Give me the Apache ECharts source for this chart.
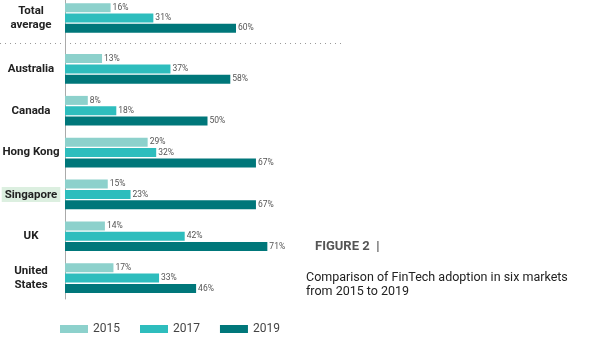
<!DOCTYPE html>
<html>
<head>
<meta charset="utf-8">
<script src="https://cdn.jsdelivr.net/npm/echarts@6/dist/echarts.min.js"></script>
<style>html,body{margin:0;padding:0;background:#fff}#c{width:600px;height:360px}</style>
</head>
<body>
<div id="c"></div>
<script>
var totalCategory = ['Total average'];
var total2015 = [16];
var total2017 = [31];
var total2019 = [60];

var markets = ['Australia', 'Canada', 'Hong Kong', 'Singapore', 'UK', 'United States'];
var v2015 = [13, 8, 29, 15, 14, 17];
var v2017 = [37, 18, 32, 23, 42, 33];
var v2019 = [58, 50, 67, 67, 71, 46];

var years = ['2015', '2017', '2019'];
var colors = ['#8dd1cc', '#2ebdbd', '#00777a'];

var fontFam = 'Roboto, "Noto Sans", sans-serif';

function yLabel(v) {
  var t = v.replace('Total average', 'Total\naverage').replace('United States', 'United\nStates');
  if (v === 'Singapore') return '{hl|' + t + '}';
  return t;
}

var axisLabelCommon = {
  fontFamily: fontFam, fontWeight: 'bold', fontSize: 11.5, color: '#222',
  align: 'center', margin: 34, lineHeight: 14, formatter: yLabel,
  rich: { hl: { backgroundColor: '#dcefe0', padding: [2, 3, 1, 3], fontFamily: fontFam, fontWeight: 'bold', fontSize: 11.5, color: '#222' } }
};

function barSeries(name, data, color, idx) {
  return {
    type: 'bar', name: name, data: data, xAxisIndex: idx, yAxisIndex: idx,
    barWidth: 9, barGap: '15%', itemStyle: { color: color },
    label: { show: true, position: 'right', distance: 2, formatter: '{c}%', fontFamily: fontFam, fontSize: 8.5, color: '#555' }
  };
}

var chart = echarts.init(document.getElementById('c'));
chart.setOption({
  animation: false,
  title: [
    { text: 'FIGURE 2  |', left: 315, top: 240, padding: 0, textStyle: { fontFamily: fontFam, fontWeight: 'bold', fontSize: 13, color: '#555' } },
    { text: 'Comparison of FinTech adoption in six markets\nfrom 2015 to 2019', left: 306, top: 271, padding: 0,
      textStyle: { fontFamily: fontFam, fontWeight: 'normal', fontSize: 12.5, color: '#222', lineHeight: 14 } }
  ],
  legend: {
    data: years, left: 55, top: 318, itemWidth: 28, itemHeight: 8, itemGap: 20,
    icon: 'rect', textStyle: { fontFamily: fontFam, fontSize: 12, color: '#444' }
  },
  grid: [
    { left: 65, top: -12, width: 285, height: 60, outerBoundsMode: 'none', containLabel: false },
    { left: 65, top: 48, width: 285, height: 251, outerBoundsMode: 'none', containLabel: false }
  ],
  xAxis: [
    { gridIndex: 0, type: 'value', min: 0, max: 100, show: false },
    { gridIndex: 1, type: 'value', min: 0, max: 100, show: false }
  ],
  yAxis: [
    { gridIndex: 0, type: 'category', data: totalCategory, inverse: true,
      axisLine: { lineStyle: { color: '#aaa' } }, axisTick: { show: false }, axisLabel: axisLabelCommon },
    { gridIndex: 1, type: 'category', data: markets, inverse: true,
      axisLine: { lineStyle: { color: '#aaa' } }, axisTick: { show: false }, axisLabel: axisLabelCommon }
  ],
  graphic: [
    { type: 'line', shape: { x1: 0, y1: 43.5, x2: 345, y2: 43.5 }, style: { stroke: '#999', lineWidth: 1, lineDash: [1, 4] }, silent: true }
  ],
  series: [
    barSeries('2015', total2015, colors[0], 0),
    barSeries('2017', total2017, colors[1], 0),
    barSeries('2019', total2019, colors[2], 0),
    barSeries('2015', v2015, colors[0], 1),
    barSeries('2017', v2017, colors[1], 1),
    barSeries('2019', v2019, colors[2], 1)
  ]
});
</script>
</body>
</html>
